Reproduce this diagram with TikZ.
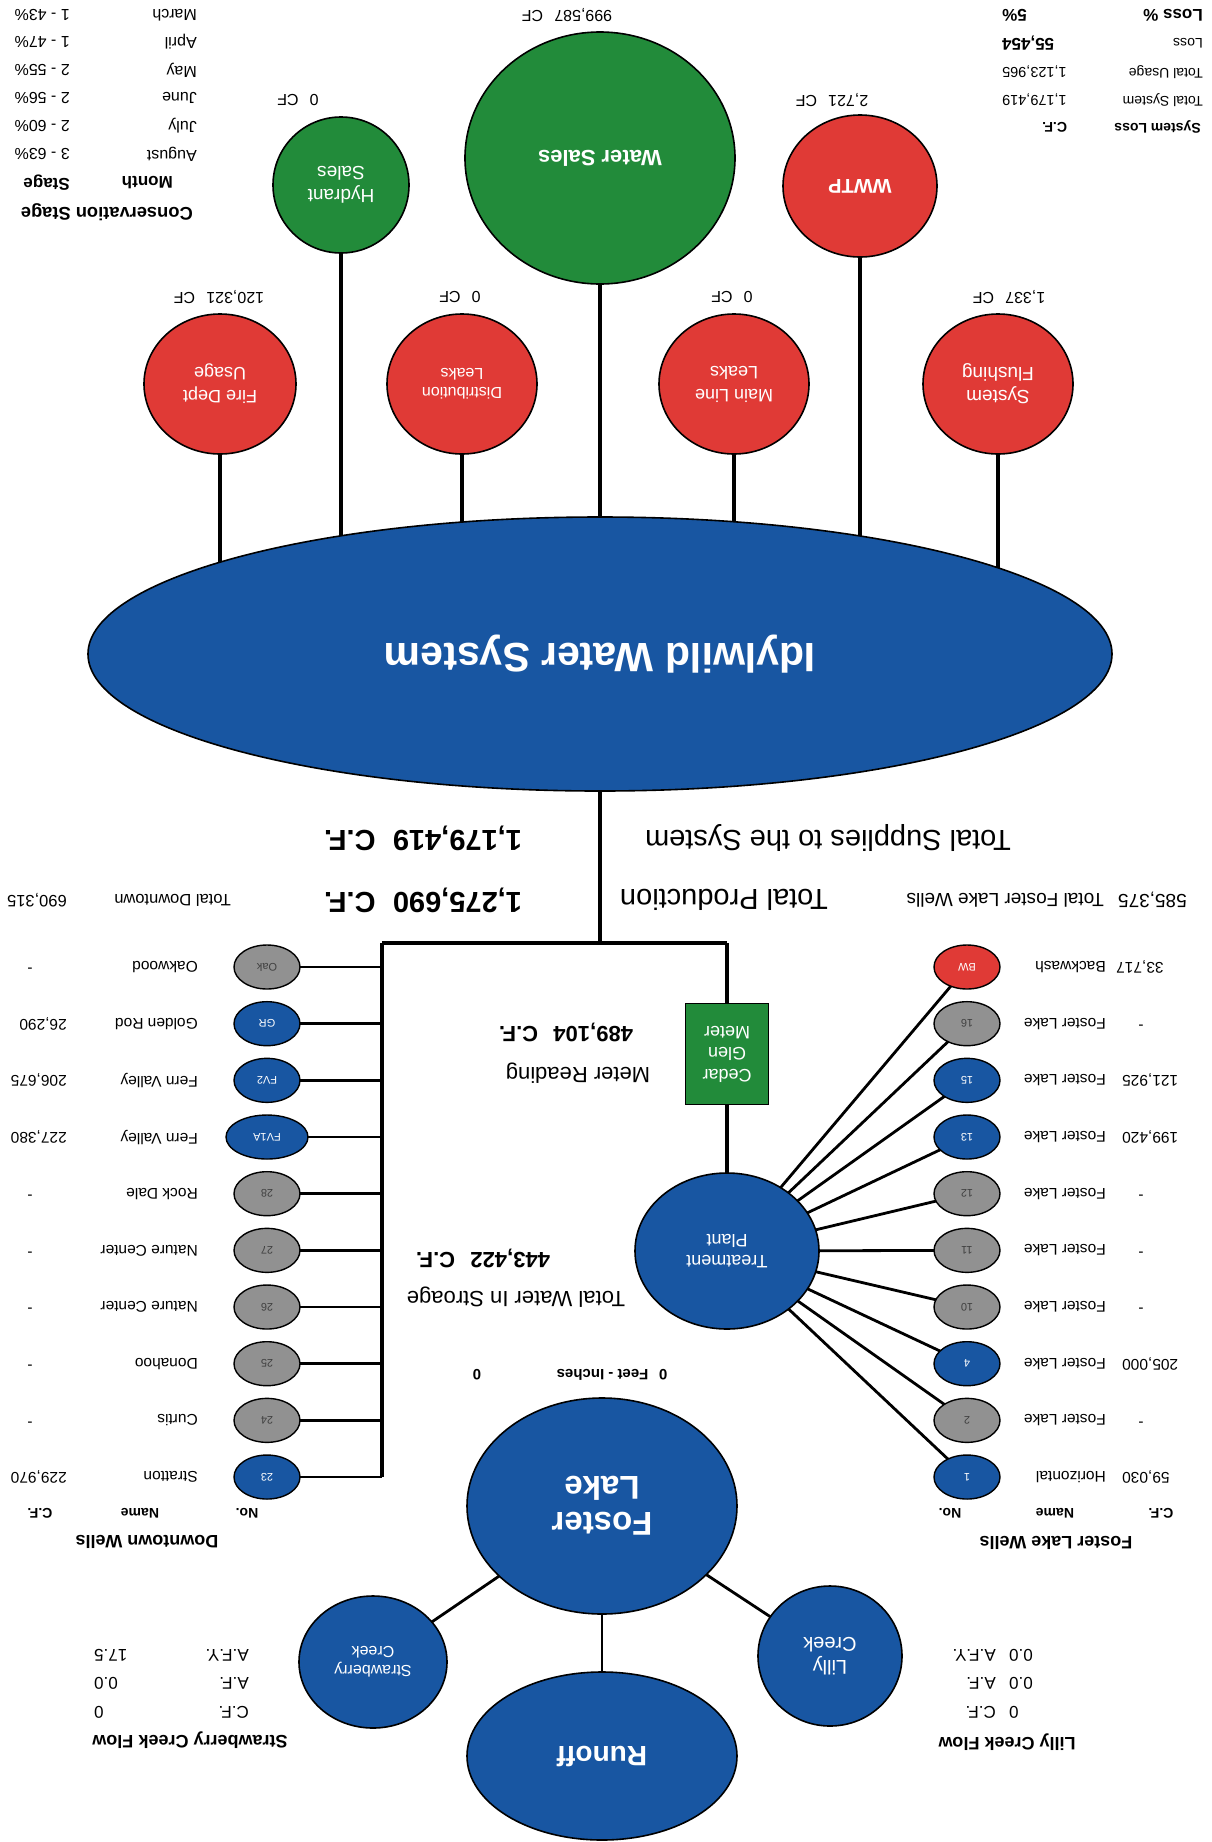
\documentclass[tikz,border=0pt]{standalone}
\usepackage{fontspec}
\setmainfont{Liberation Sans}
\usetikzlibrary{shapes.geometric,backgrounds}
\definecolor{wblue}{RGB}{24,86,162}
\definecolor{wgreen}{RGB}{34,139,58}
\definecolor{wred}{RGB}{224,58,54}
\definecolor{wgray}{RGB}{145,145,145}
\newcommand{\fsz}[2]{\fontsize{#1}{#2}\selectfont}
\tikzset{
  txt/.style={rotate=180, inner sep=0pt, font=\fsz{16}{16}},
  bub/.style={ellipse, draw=black, line width=1.6pt, rotate=180, inner sep=0pt, text=white, align=center},
  well/.style={ellipse, draw=black, line width=1.4pt, inner sep=0pt, minimum width=66pt, minimum height=44pt, rotate=180, font=\fsz{11}{11}},
  bluewell/.style={well, fill=wblue, text=white},
  widewell/.style={well, fill=wblue, text=white, minimum width=82pt},
  graywell/.style={well, fill=wgray, text=black!75},
  redwell/.style={well, fill=wred, text=white},
  conn/.style={line width=2.8pt, black},
  trunk/.style={line width=3.6pt, black},
}
\begin{document}
\begin{tikzpicture}[x=1pt,y=-1pt]
\useasboundingbox (0,0) rectangle (1212,1842);
% ---------- Conservation stage table (top left)
\foreach \m/\p/\y in {March/1 - 43\%/15, April/1 - 47\%/42, May/2 - 55\%/70, June/2 - 56\%/98, July/2 - 60\%/126, August/3 - 63\%/154}{
  \node[txt,anchor=west] (mon\y) at (197,\y) {\m};
  \node[txt,anchor=west] (pct\y) at (70,\y) {\p};
}
\node[txt,anchor=west,font=\bfseries\fsz{17}{17}] (monh) at (173,183) {Month};
\node[txt,anchor=west,font=\bfseries\fsz{17}{17}] (stgh) at (70,183) {Stage};
\node[txt,anchor=west,font=\bfseries\fsz{18.3}{18.3}] (cons) at (193,212) {Conservation Stage};
% ---------- Loss table (top right)
\node[txt,anchor=west,font=\bfseries\fsz{17}{17}] (lossh) at (1203,15) {Loss \%};
\node[txt,anchor=east,font=\bfseries\fsz{17}{17}] (lossp) at (1002,15) {5\%};
\node[txt,anchor=west,font=\fsz{14}{14}] (lossl) at (1203,43) {Loss};
\node[txt,anchor=east,font=\bfseries\fsz{17}{17}] (lossv) at (1002,43) {55,454};
\node[txt,anchor=west,font=\fsz{14}{14}] (tul) at (1203,72) {Total Usage};
\node[txt,anchor=east,font=\fsz{14.5}{14.5}] (tuv) at (1002,72) {1,123,965};
\node[txt,anchor=west,font=\fsz{14}{14}] (tsl) at (1203,100) {Total System};
\node[txt,anchor=east,font=\fsz{14.5}{14.5}] (tsv) at (1002,100) {1,179,419};
\node[txt,anchor=west,font=\bfseries\fsz{14}{14}] (sll) at (1201,127) {System Loss};
\node[txt,anchor=east,font=\bfseries\fsz{14}{14}] (slv) at (1042,127) {C.F.};
% ---------- top circles
\node[bub,fill=wgreen,minimum width=136pt,minimum height=136pt,font=\fsz{19}{23}] (hs) at (341,185) {Hydrant\\Sales};
\node[bub,fill=wgreen,minimum width=270pt,minimum height=252pt,font=\bfseries\fsz{22}{22}] (ws) at (600,158) {Water Sales};
\node[bub,fill=wred,minimum width=154pt,minimum height=142pt,font=\bfseries\fsz{20}{20}] (wwtp) at (860,186) {WWTP};
\node[txt] (hsl) at (298,100) {0\hspace{0.7em}CF};
\node[txt] (wsl) at (567,15) {999,587\hspace{0.7em}CF};
\node[txt] (wwl) at (832,100) {2,721\hspace{0.7em}CF};
% ---------- red loss circles
\node[bub,fill=wred,minimum width=152pt,minimum height=140pt,font=\fsz{18}{23}] (fd) at (220,384) {Fire Dept\\Usage};
\node[bub,fill=wred,minimum width=150pt,minimum height=140pt,font=\fsz{16}{19}] (dl) at (462,384) {Distribution\\Leaks};
\node[bub,fill=wred,minimum width=150pt,minimum height=140pt,font=\fsz{18}{23}] (ml) at (734,384) {Main Line\\Leaks};
\node[bub,fill=wred,minimum width=150pt,minimum height=140pt,font=\fsz{19}{23}] (sf) at (998,384) {System\\Flushing};
\node[txt] (fdl) at (219,297) {120,321\hspace{0.7em}CF};
\node[txt] (dll) at (460,297) {0\hspace{0.7em}CF};
\node[txt] (mll) at (732,297) {0\hspace{0.7em}CF};
\node[txt] (sfl) at (1009,297) {1,337\hspace{0.7em}CF};
% ---------- main system
\node[bub,fill=wblue,minimum width=1024pt,minimum height=274pt,font=\bfseries\fsz{41}{41}] (sys) at (600,654) {Idylwild Water System};
% ---------- totals
\node[txt,font=\fsz{29}{29}] (tsup) at (828,838) {Total Supplies to the System};
\node[txt,font=\bfseries\fsz{29}{29}] (tsupv) at (423,838) {1,179,419\hspace{0.6em}C.F.};
\node[txt,font=\fsz{29}{29}] (tprod) at (724,900) {Total Production};
\node[txt,font=\bfseries\fsz{29}{29}] (tprodv) at (423,900) {1,275,690\hspace{0.6em}C.F.};
\node[txt,anchor=west,font=\fsz{16.5}{16.5}] (tdt) at (231,900) {Total Downtown};
\node[txt,anchor=west,font=\fsz{16.5}{16.5}] (tdtv) at (67,900) {690,315};
\node[txt,anchor=west,font=\fsz{19}{19}] (tfl) at (1104,900) {Total Foster Lake Wells};
\node[txt,anchor=west,font=\fsz{19}{19}] (tflv) at (1187,900) {585,375};
% ---------- junction coordinates
\coordinate (jc) at (600,943);
\coordinate (jl) at (382,943);
\coordinate (jr) at (727,943);
\coordinate (jb) at (382,1477);
% ---------- meter and treatment plant
\node[rectangle,draw=black,line width=1.6pt,fill=wgreen,minimum width=83pt,minimum height=101pt,inner sep=0pt,rotate=180,text=white,align=center,font=\fsz{18}{21.5}] (meter) at (727,1054) {Cedar\\Glen\\Meter};
\node[bub,fill=wblue,minimum width=184pt,minimum height=156pt,font=\fsz{18}{21}] (tp) at (727,1251) {Treatment\\Plant};
\node[txt,font=\fsz{22}{22}] (mread) at (578,1073) {Meter Reading};
\node[txt,font=\bfseries\fsz{22}{22}] (mreadv) at (566,1032) {489,104\hspace{0.7em}C.F.};
\node[txt,font=\fsz{22}{22}] (stor) at (516,1297) {Total Water In Stroage};
\node[txt,font=\bfseries\fsz{22}{22}] (storv) at (483,1258) {443,422\hspace{0.7em}C.F.};
\node[txt,font=\bfseries\fsz{15}{15}] (feet) at (612,1375) {0\hspace{0.7em}Feet - Inches};
\node[txt,font=\bfseries\fsz{15}{15}] (feetv) at (477,1375) {0};
% ---------- downtown wells
\foreach \k/\lab/\st/\nm in {0/Oak/graywell/Oakwood, 1/GR/bluewell/Golden Rod, 2/FV2/bluewell/Fern Valley, 3/FV1A/widewell/Fern Valley, 4/28/graywell/Rock Dale, 5/27/graywell/Nature Center, 6/26/graywell/Nature Center, 7/25/graywell/Donahoo, 8/24/graywell/Curtis, 9/23/bluewell/Stratton}{
  \pgfmathsetmacro{\yy}{967+56.67*\k}
  \node[\st] (dw\k) at (267,\yy) {\lab};
  \node[txt,anchor=west,font=\fsz{15.5}{15.5}] (dn\k) at (198,\yy) {\nm};
}
\node[txt,anchor=west,font=\fsz{15.5}{15.5}] (dv1) at (67,1024) {26,290};
\node[txt,anchor=west,font=\fsz{15.5}{15.5}] (dv2) at (67,1080) {206,675};
\node[txt,anchor=west,font=\fsz{15.5}{15.5}] (dv3) at (67,1137) {227,380};
\node[txt,anchor=west,font=\fsz{15.5}{15.5}] (dv9) at (67,1477) {229,970};
\foreach \k in {0,4,5,6,7,8}{
  \pgfmathsetmacro{\yy}{967+56.67*\k}
  \node[txt,font=\fsz{15.5}{15.5}] (dd\k) at (30,\yy) {-};
}
\node[txt,font=\bfseries\fsz{14}{14}] (dhno) at (247,1513) {No.};
\node[txt,font=\bfseries\fsz{14}{14}] (dhnm) at (140,1513) {Name};
\node[txt,font=\bfseries\fsz{14}{14}] (dhcf) at (40,1513) {C.F.};
\node[txt,font=\bfseries\fsz{18}{18}] (dwt) at (147,1542) {Downtown Wells};
% ---------- foster lake wells
\foreach \k/\lab/\st/\nm in {0/BW/redwell/Backwash, 1/16/graywell/Foster Lake, 2/15/bluewell/Foster Lake, 3/13/bluewell/Foster Lake, 4/12/graywell/Foster Lake, 5/11/graywell/Foster Lake, 6/10/graywell/Foster Lake, 7/4/bluewell/Foster Lake, 8/2/graywell/Foster Lake, 9/1/bluewell/Horizontal}{
  \pgfmathsetmacro{\yy}{967+56.67*\k}
  \node[\st] (fw\k) at (967,\yy) {\lab};
  \node[txt,anchor=west,font=\fsz{15.5}{15.5}] (fn\k) at (1106,\yy) {\nm};
}
\node[txt,anchor=east,font=\fsz{15.5}{15.5}] (fv0) at (1116,967) {33,717};
\node[txt,anchor=east,font=\fsz{15.5}{15.5}] (fv2) at (1122,1080) {121,925};
\node[txt,anchor=east,font=\fsz{15.5}{15.5}] (fv3) at (1122,1137) {199,420};
\node[txt,anchor=east,font=\fsz{15.5}{15.5}] (fv7) at (1122,1364) {205,000};
\node[txt,anchor=east,font=\fsz{15.5}{15.5}] (fv9) at (1122,1477) {59,030};
\foreach \k in {1,4,5,6,8}{
  \pgfmathsetmacro{\yy}{967+56.67*\k}
  \node[txt,font=\fsz{15.5}{15.5}] (fd\k) at (1141,\yy) {-};
}
\node[txt,font=\bfseries\fsz{14}{14}] (fhno) at (950,1513) {No.};
\node[txt,font=\bfseries\fsz{14}{14}] (fhnm) at (1055,1513) {Name};
\node[txt,font=\bfseries\fsz{14}{14}] (fhcf) at (1161,1513) {C.F.};
\node[txt,font=\bfseries\fsz{18}{18}] (fwt) at (1056,1543) {Foster Lake Wells};
% ---------- lake and creeks
\node[bub,fill=wblue,minimum width=270pt,minimum height=216pt,font=\bfseries\fsz{33}{36}] (fl) at (602,1506) {Foster\\Lake};
\node[bub,fill=wblue,minimum width=270pt,minimum height=168pt,font=\bfseries\fsz{28}{28}] (ro) at (602,1756) {Runoff};
\node[bub,fill=wblue,minimum width=148pt,minimum height=132pt,font=\fsz{16}{19}] (sc) at (373,1662) {Strawberry\\Creek};
\node[bub,fill=wblue,minimum width=144pt,minimum height=140pt,font=\fsz{20}{23}] (lc) at (830,1656) {Lilly\\Creek};
% strawberry flow
\node[txt,anchor=west,font=\fsz{17}{17}] (scl1) at (249,1655) {A.F.Y.};
\node[txt,anchor=west,font=\fsz{17}{17}] (scl2) at (249,1683) {A.F.};
\node[txt,anchor=west,font=\fsz{17}{17}] (scl3) at (249,1712) {C.F.};
\node[txt,anchor=east,font=\fsz{17}{17}] (scv1) at (94,1655) {17.5};
\node[txt,anchor=east,font=\fsz{17}{17}] (scv2) at (94,1683) {0.0};
\node[txt,anchor=east,font=\fsz{17}{17}] (scv3) at (94,1712) {0};
\node[txt,font=\bfseries\fsz{18}{18}] (sct) at (190,1740) {Strawberry Creek Flow};
% lilly flow
\node[txt,anchor=west,font=\fsz{17}{17}] (lcl1) at (996,1655) {A.F.Y.};
\node[txt,anchor=west,font=\fsz{17}{17}] (lcl2) at (996,1683) {A.F.};
\node[txt,anchor=west,font=\fsz{17}{17}] (lcl3) at (996,1712) {C.F.};
\node[txt,anchor=east,font=\fsz{17}{17}] (lcv1) at (1009,1655) {0.0};
\node[txt,anchor=east,font=\fsz{17}{17}] (lcv2) at (1009,1683) {0.0};
\node[txt,anchor=east,font=\fsz{17}{17}] (lcv3) at (1009,1712) {0};
\node[txt,font=\bfseries\fsz{18}{18}] (lct) at (1007,1742) {Lilly Creek Flow};
% ---------- connectors (behind nodes)
\begin{scope}[on background layer]
\fill[white] (0,0) rectangle (1212,1842);
\foreach \n in {hs,ws,wwtp,fd,dl,ml,sf}{
  \draw[trunk] (\n.center) -- (\n.center |- sys.center);
}
\draw[trunk] (sys.center) -- (jc);
\draw[trunk] (jl) -- (jr);
\draw[trunk] (jr) -- (tp.center);
\draw[trunk] (jl) -- (jb);
\foreach \k in {0,...,9}{
  \draw[conn] (dw\k.center) -- (dw\k.center -| jl);
  \draw[conn] (tp.center) -- (fw\k.center);
}
\draw[conn] (fl.center) -- (sc.center);
\draw[conn] (fl.center) -- (ro.center);
\draw[conn] (fl.center) -- (lc.center);
\end{scope}
\end{tikzpicture}
\end{document}
